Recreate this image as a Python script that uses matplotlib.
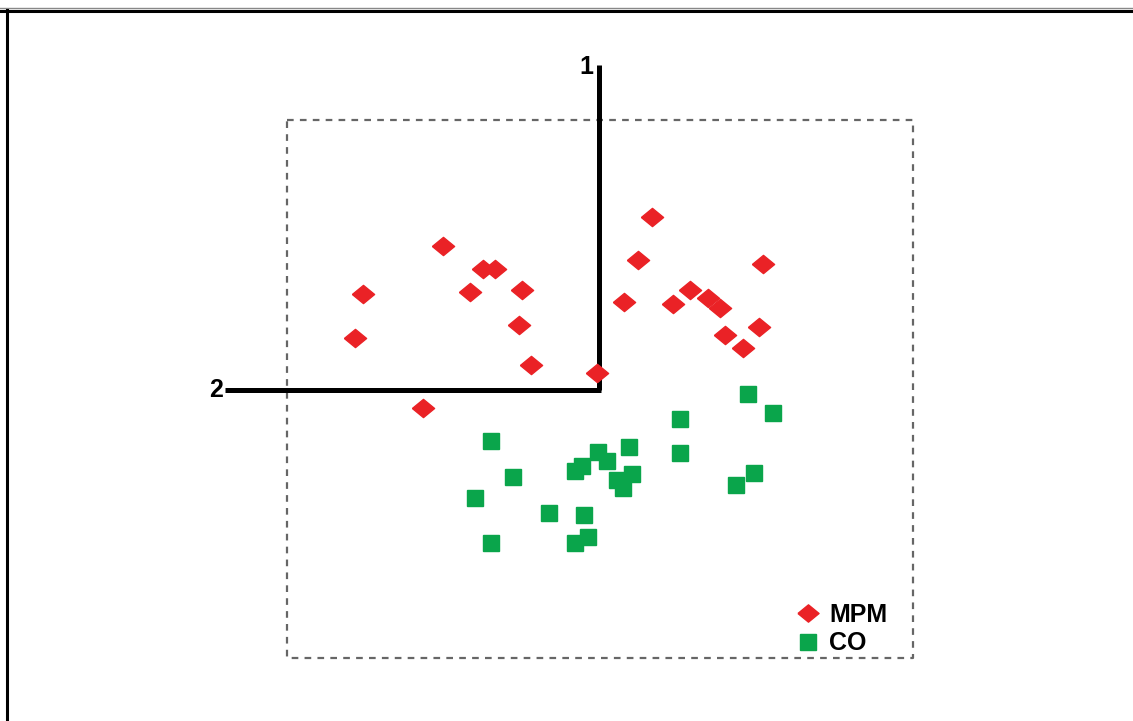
'''
Score plot of the first two components, MPM vs CO samples.
'''

import matplotlib.pyplot as plt
from matplotlib.lines import Line2D

plt.rcParams['font.family'] = ['Liberation Sans', 'DejaVu Sans']

# component scores (x = component 2 direction, y = component 1)
mpm_x = [-1.56, -1.16, -1.04, -2.36, -1.29, -0.77, -2.44, -0.80, -0.68, -0.02, -1.76,
         0.53, 0.39, 1.64, 0.25, 0.74, 0.91, 1.09, 1.21, 1.26, 1.60, 1.44]
mpm_y = [1.44, 1.21, 1.21, 0.96, 0.98, 1.00, 0.52, 0.65, 0.25, 0.17, -0.18,
         1.73, 1.30, 1.26, 0.88, 0.86, 1.00, 0.92, 0.82, 0.55, 0.63, 0.42]

co_x = [1.49, 1.74, 0.81, 0.81, -1.08, 0.30, -0.01, 0.08, -0.17, -0.24, -0.86,
        0.33, 0.18, 0.24, 1.55, 1.37, -1.24, -0.50, -0.15, -1.08, -0.11, -0.24]
co_y = [-0.04, -0.23, -0.29, -0.63, -0.51, -0.57, -0.62, -0.71, -0.76, -0.81, -0.87,
        -0.84, -0.90, -0.98, -0.83, -0.95, -1.08, -1.23, -1.25, -1.53, -1.47, -1.53]

groups = ['MPM', 'CO']

red = '#ea2226'
green = '#0aa54b'

# flattened diamond marker
diamond = [(-1, 0), (0, 0.82), (1, 0), (0, -0.82), (-1, 0)]

fig = plt.figure(figsize=(11.33, 7.21), dpi=100)
ax = fig.add_axes([0, 0, 1, 1])
ax.set_xlim(-5.99, 5.34)
ax.set_ylim(-3.31, 3.90)
ax.axis('off')

# outer frame (top double line + left line)
fig.add_artist(Line2D([0, 1], [1 - 7.5 / 721, 1 - 7.5 / 721], color='#888888', lw=1.0))
fig.add_artist(Line2D([0, 1], [1 - 10.5 / 721, 1 - 10.5 / 721], color='black', lw=2.2))
fig.add_artist(Line2D([7.2 / 1133, 7.2 / 1133], [0, 1 - 10 / 721], color='black', lw=2.2))

# dotted bounding box
bx = [-3.12, 3.14, 3.14, -3.12, -3.12]
by = [2.70, 2.70, -2.68, -2.68, 2.70]
ax.plot(bx, by, color='#666666', lw=1.6, ls=(0, (3, 2.8)))

# component axes
ax.plot([0, 0], [0, 3.25], color='black', lw=3.6, solid_capstyle='butt')
ax.plot([-3.74, 0.02], [0, 0], color='black', lw=3.6, solid_capstyle='butt')
ax.text(-0.06, 3.23, '1', fontsize=18, fontweight='bold', ha='right', va='center')
ax.text(-3.76, 0.0, '2', fontsize=18, fontweight='bold', ha='right', va='center')

# scores
ax.plot(mpm_x, mpm_y, ls='none', marker=diamond, ms=16, color=red, mec=red, label=groups[0])
ax.plot(co_x, co_y, ls='none', marker='s', ms=11.5, color=green, mec=green, label=groups[1])

leg = ax.legend(loc='upper left', bbox_to_anchor=(798 / 1133, 1 - 603 / 721),
                frameon=False, prop={'size': 18, 'weight': 'bold'},
                handlelength=0.8, handletextpad=0.45, labelspacing=0.18,
                borderpad=0, borderaxespad=0, markerscale=0.95)

fig.savefig('out.png', dpi=100)
